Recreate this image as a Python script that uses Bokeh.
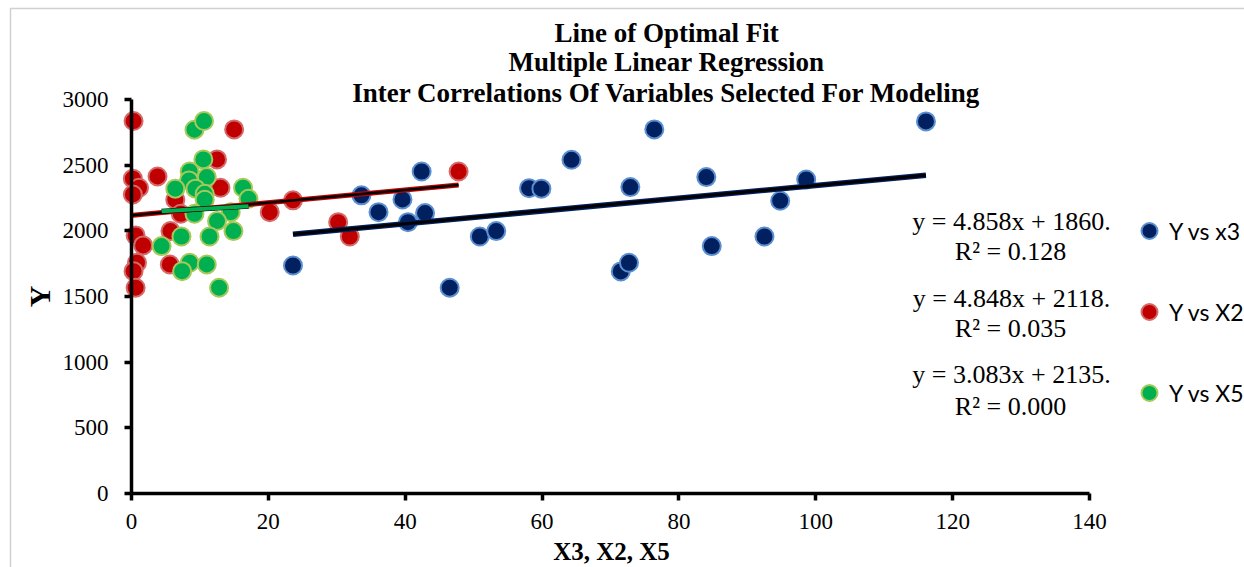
import math
from bokeh.plotting import figure
from bokeh.models import (Range1d, SingleIntervalTicker, Label, Legend, LegendItem,
                          BoxAnnotation)
from bokeh.embed import file_html
from bokeh.resources import INLINE

# ---------------- data ----------------
x3 = [23.6, 33.6, 36.1, 39.6, 40.4, 42.4, 42.9, 46.5, 50.9, 53.3, 58.1, 59.9,
      64.3, 71.5, 72.7, 72.9, 76.4, 84.0, 84.8, 92.5, 94.8, 98.6, 116.1]
y3 = [1736, 2270, 2142, 2239, 2066, 2452, 2135, 1567, 1957, 1998, 2325, 2321,
      2541, 1691, 1757, 2333, 2772, 2409, 1884, 1957, 2229, 2391, 2833]

x2 = [0.3, 15.0, 12.5, 47.8, 0.2, 3.8, 1.1, 13.0, 0.2, 6.4, 23.6, 20.2, 7.2,
      30.2, 5.7, 0.6, 31.9, 1.7, 0.8, 5.6, 0.3, 0.6]
y2 = [2836, 2772, 2544, 2452, 2397, 2414, 2328, 2328, 2277, 2237, 2232, 2142,
      2130, 2066, 1998, 1965, 1957, 1889, 1757, 1744, 1693, 1567]

x5 = [9.2, 10.6, 10.5, 8.5, 8.4, 11.0, 6.4, 9.35, 10.7, 10.7, 16.3, 17.1, 9.2,
      14.5, 12.5, 7.3, 11.4, 14.9, 4.4, 8.5, 7.4, 11.0, 12.8]
y5 = [2770, 2836, 2544, 2452, 2384, 2409, 2321, 2321, 2282, 2237, 2328, 2244,
      2130, 2142, 2074, 1957, 1957, 1998, 1884, 1757, 1693, 1744, 1567]

series_names = ["Y vs x3", "Y vs X2", "Y vs X5"]
slopes = [4.858, 4.848, 3.083]
intercepts = [1860, 2118, 2135]
r_squared = [0.128, 0.035, 0.000]

title_lines = ["Line of Optimal Fit", "Multiple Linear Regression",
               "Inter Correlations Of Variables Selected For Modeling"]
x_title = "X3, X2, X5"
y_title = "Y"
x_ticks_max, y_ticks_max = 140, 3000

# ---------------- layout ----------------
W, H = 1244, 567
LEFT = 131          # canvas px of x = 0
BASE = 493          # canvas px of y = 0
XS = (1089 - 131) / 140.0
YS = (493 - 99) / 3000.0


def dx(px):
    return (px - LEFT) / XS


def dy(py):
    return (BASE - py) / YS


p = figure(width=W, height=H, output_backend="svg", toolbar_location=None,
           title=None,
           x_range=Range1d(dx(0), dx(W)), y_range=Range1d(dy(H), dy(0)),
           min_border_left=0, min_border_right=0, min_border_top=0,
           min_border_bottom=0)
p.outline_line_color = None
p.background_fill_color = "white"
p.border_fill_color = "white"
p.xgrid.visible = False
p.ygrid.visible = False

for ax in (p.xaxis[0], p.yaxis[0]):
    ax.fixed_location = 0
    ax.axis_line_width = 3.5
    ax.axis_line_color = "black"
    ax.major_tick_line_width = 3.5
    ax.major_tick_line_color = "black"
    ax.major_tick_out = 7
    ax.major_tick_in = 0
    ax.minor_tick_out = 0
    ax.minor_tick_in = 0
    ax.major_label_text_font = "Liberation Serif"
    ax.major_label_text_font_size = "23px"
    ax.major_label_text_color = "black"

p.xaxis.bounds = (0, x_ticks_max)
p.yaxis.bounds = (0, y_ticks_max)
p.xaxis.ticker = SingleIntervalTicker(interval=20, num_minor_ticks=0)
p.yaxis.ticker = SingleIntervalTicker(interval=500, num_minor_ticks=0)
p.yaxis.major_label_standoff = 16
p.xaxis.major_label_standoff = 13

# outer chart border
p.add_layout(BoxAnnotation(left=dx(10), right=dx(W + 50), top=dy(8), bottom=dy(H + 50),
                           fill_color=None, line_color="#666666", line_width=1.5))

# ---------------- marks ----------------
styles = [("#002060", "#5b8fd0"), ("#c00000", "#d46a6a"), ("#00b050", "#a6c95a")]
xs_all = [x3, x2, x5]
ys_all = [y3, y2, y5]
renderers = []
for xs, ys, (fc, lc) in zip(xs_all, ys_all, styles):
    r = p.scatter(xs, ys, size=18, fill_color=fc, line_color=lc, line_width=2)
    renderers.append(r)

trend_styles = [("#002060", 5.5, "black", 3.0),
                ("#c00000", 5.0, "black", 2.5),
                ("black", 5.0, "#00b050", 4.0)]
for xs, m, b, (c1, w1, c2, w2) in zip(xs_all, slopes, intercepts, trend_styles):
    lx = [min(xs), max(xs)]
    ly = [m * v + b for v in lx]
    p.line(lx, ly, line_color=c1, line_width=w1)
    p.line(lx, ly, line_color=c2, line_width=w2)

# ---------------- texts ----------------
title_centers = [32, 61.5, 92]
for t, cy in zip(title_lines, title_centers):
    p.add_layout(Label(x=dx(666), y=dy(cy), text=t, text_align="center",
                       text_baseline="middle", text_font="Liberation Serif",
                       text_font_size="27px", text_font_style="bold",
                       text_color="black"))

eq_centers = [(220.5, 250.8), (297.5, 327.5), (374.2, 405.8)]
for m, b, r2, (c1, c2) in zip(slopes, intercepts, r_squared, eq_centers):
    p.add_layout(Label(x=dx(1011), y=dy(c1), text=f"y = {m:.3f}x + {b}.",
                       text_align="center", text_baseline="middle",
                       text_font="Liberation Serif", text_font_size="26px",
                       text_color="black"))
    p.add_layout(Label(x=dx(1010), y=dy(c2), text=f"R\u00b2 = {r2:.3f}",
                       text_align="center", text_baseline="middle",
                       text_font="Liberation Serif", text_font_size="26px",
                       text_color="black"))

p.add_layout(Label(x=dx(611), y=dy(551), text=x_title, text_align="center",
                   text_baseline="middle", text_font="Liberation Serif",
                   text_font_size="25px", text_font_style="bold", text_color="black"))
p.add_layout(Label(x=dx(39), y=dy(296), text=y_title, angle=math.pi / 2,
                   text_align="center", text_baseline="middle",
                   text_font="Liberation Serif", text_font_size="30px",
                   text_font_style="bold", text_color="black"))

# ---------------- legend ----------------
legend = Legend(items=[LegendItem(label=n, renderers=[r]) for n, r in zip(series_names, renderers)],
                location=(1129, 152), orientation="vertical",
                glyph_width=40, glyph_height=45, label_height=45, spacing=36,
                padding=0, margin=0, label_standoff=0,
                border_line_color=None, background_fill_alpha=0,
                label_text_font="Lato", label_text_font_size="23px",
                label_text_color="black")
p.add_layout(legend)

open("out.html", "w").write(file_html(p, INLINE))
